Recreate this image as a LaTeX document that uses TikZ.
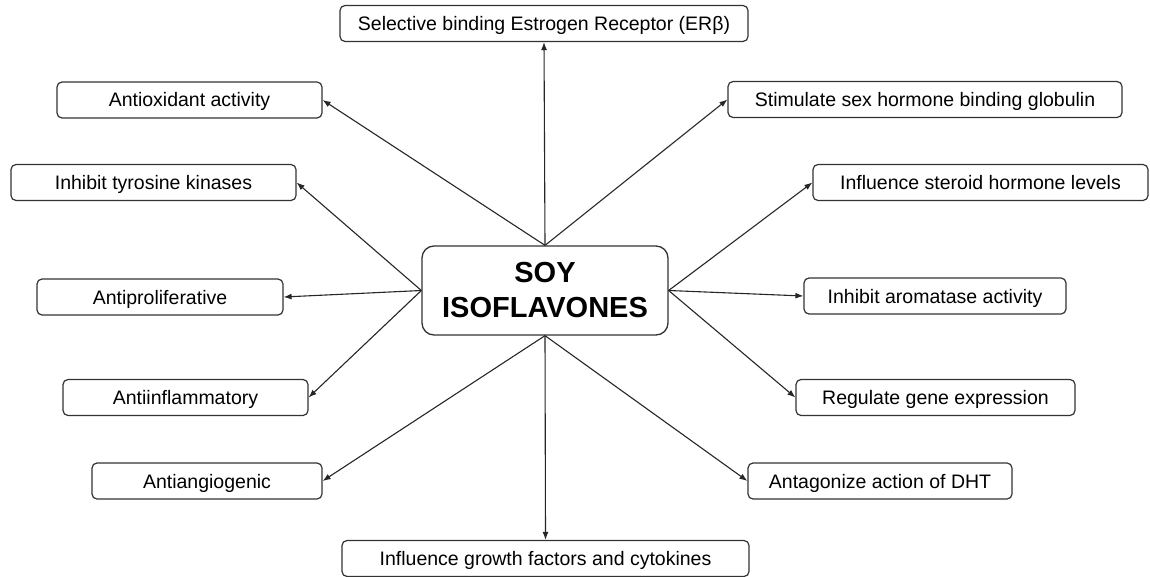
\documentclass[tikz,border=0pt]{standalone}
\usepackage{fontspec}
\setmainfont{Liberation Sans}
\usepackage{tikz}
\usetikzlibrary{positioning, arrows.meta}

\tikzset{
  effectbox/.style={draw=black!80, line width=1.2pt, rounded corners=5pt, minimum height=36pt, inner sep=0pt, text height=14pt, text depth=0pt, font=\fontsize{19.5}{22}\selectfont},
  soybox/.style={draw=black!80, line width=1.3pt, rounded corners=12pt, minimum width=246pt, minimum height=89pt, align=center, font=\fontsize{29}{35}\selectfont\bfseries},
  effectarrow/.style={-{Latex[length=8pt,width=6pt]}, line width=1.1pt, black!85}
}

\begin{document}
\begin{tikzpicture}[x=1pt, y=-1pt]
  \useasboundingbox (0,0) rectangle (1150,577);
  % centre box
  \node[soybox] (soy) at (545,290.5) {SOY\\ISOFLAVONES};
  % the effects around it
  \foreach \name/\x/\y/\w/\txt in {
      erb/544/23.5/408/Selective binding Estrogen Receptor (ERβ),
      antiox/189.5/100/265/Antioxidant activity,
      shbg/925/99.5/394/Stimulate sex hormone binding globulin,
      tyrosine/153.5/182.5/285/Inhibit tyrosine kinases,
      steroid/980.5/182.5/335/Influence steroid hormone levels,
      prolif/160/297/246/Antiproliferative,
      aromatase/935/296/262/Inhibit aromatase activity,
      inflam/185.5/397.5/245/Antiinflammatory,
      gene/935.5/397.5/279/Regulate gene expression,
      angio/207/481/230/Antiangiogenic,
      dht/880/481/264/Antagonize action of DHT,
      growth/545.5/558.5/407/Influence growth factors and cytokines} {
    \node[effectbox, minimum width=\w pt] (\name) at (\x,\y) {\txt};
  }
  % arrows
  \foreach \from/\to in {soy.north/erb.south, soy.north/antiox.east, soy.north/shbg.west,
      soy.west/tyrosine.east, soy.west/prolif.east, soy.west/inflam.east,
      soy.east/steroid.west, soy.east/aromatase.west, soy.east/gene.west,
      soy.south/angio.east, soy.south/growth.north, soy.south/dht.west} {
    \draw[effectarrow] (\from) -- (\to);
  }
\end{tikzpicture}
\end{document}
